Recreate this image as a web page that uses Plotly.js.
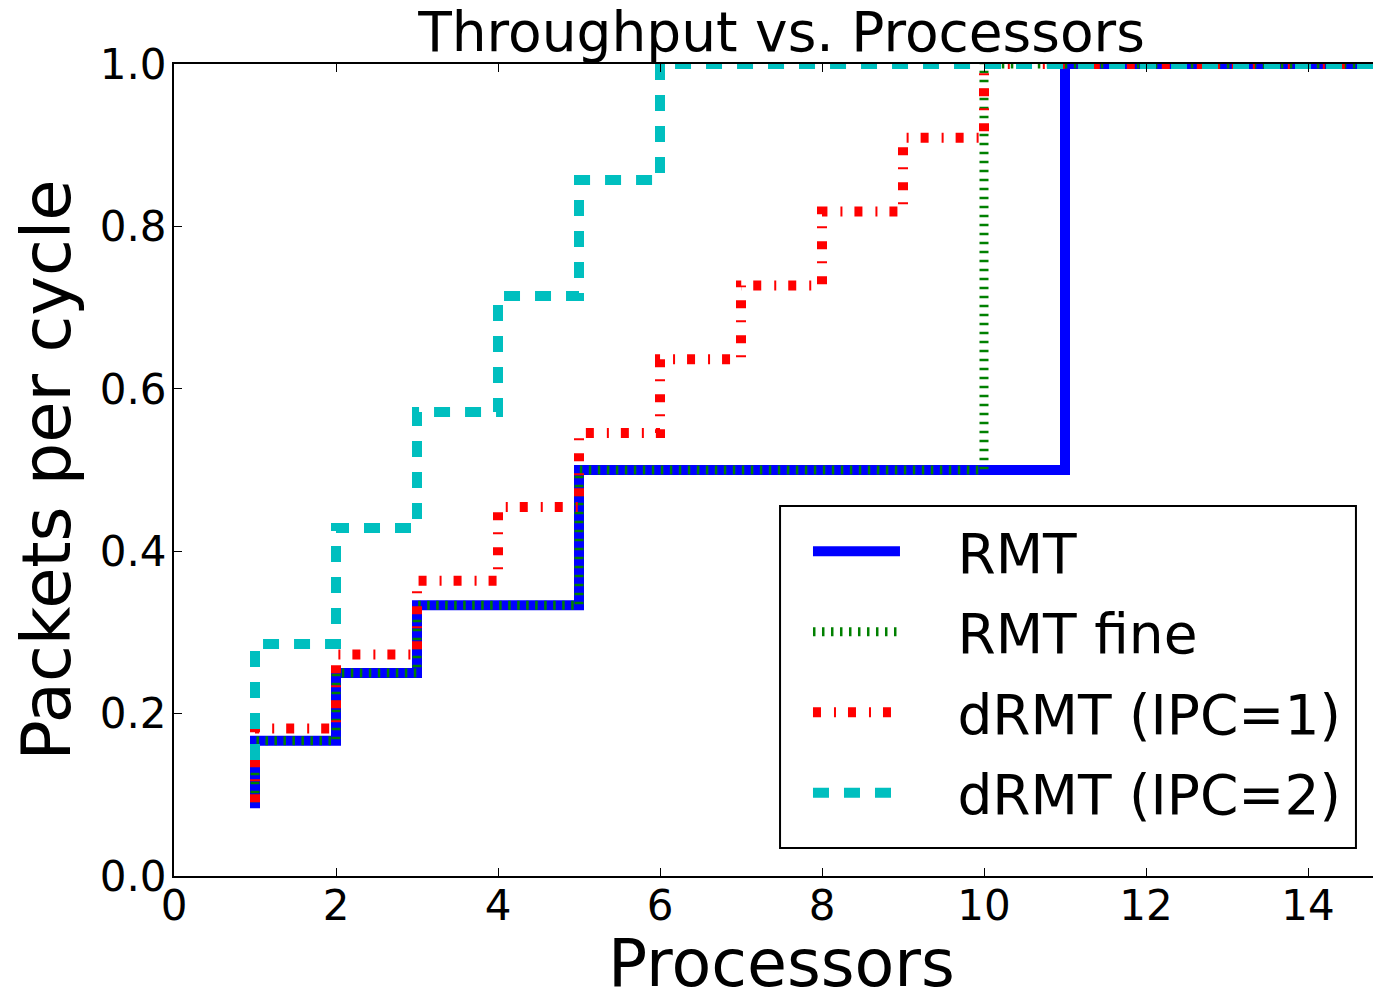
<!DOCTYPE html>
<html>
<head>
<meta charset="utf-8">
<script src="https://cdn.plot.ly/plotly-3.0.1.min.js"></script>
<style>
  html, body { margin: 0; padding: 0; background: #ffffff; overflow: hidden; }
  #chart { width: 1389px; height: 1001px; }
</style>
</head>
<body>
<div id="chart"></div>
<script>
// Number of processors
const processors = [1, 2, 3, 4, 5, 6, 7, 8, 9, 10, 11, 12, 13, 14, 15, 16];

// Packets per cycle (step plot, value holds to the left of each x)
const rmt = [0.0833, 0.1667, 0.25, 0.3333, 0.3333, 0.5, 0.5, 0.5, 0.5, 0.5, 0.5, 1.0, 1.0, 1.0, 1.0, 1.0];
const rmtFine = [0.0909, 0.1667, 0.25, 0.3333, 0.3333, 0.5, 0.5, 0.5, 0.5, 0.5, 1.0, 1.0, 1.0, 1.0, 1.0, 1.0];
const drmtIpc1 = [0.0909, 0.1818, 0.2727, 0.3636, 0.4545, 0.5455, 0.6364, 0.7273, 0.8182, 0.9091, 1.0, 1.0, 1.0, 1.0, 1.0, 1.0];
const drmtIpc2 = [0.1429, 0.2857, 0.4286, 0.5714, 0.7143, 0.8571, 1.0, 1.0, 1.0, 1.0, 1.0, 1.0, 1.0, 1.0, 1.0, 1.0];

const seriesNames = ["RMT", "RMT fine", "dRMT (IPC=1)", "dRMT (IPC=2)"];
const xTicks = [0, 2, 4, 6, 8, 10, 12, 14];
const yTicks = [0.0, 0.2, 0.4, 0.6, 0.8, 1.0];
const yTickText = ["0.0", "0.2", "0.4", "0.6", "0.8", "1.0"];

const FONT = "DejaVu Sans, Liberation Sans, sans-serif";
const PAD = "\u00a0\u00a0\u00a0"; // gap between legend sample and label

function stepTrace(name, y, color, width, dash, group) {
  return {
    type: "scatter",
    mode: "lines",
    name: PAD + name,
    x: processors,
    y: y,
    legendgroup: group,
    line: { shape: "vh", color: color, width: width, dash: dash },
    hoverinfo: "skip"
  };
}

const traces = [
  stepTrace(seriesNames[0], rmt, "#0000ff", 10, "solid", "g1"),
  stepTrace(seriesNames[1], rmtFine, "#008000", 9, "2.5px,6.5px", "g2"),
  stepTrace(seriesNames[2], drmtIpc1, "#ff0000", 10, "8px,13px,2px,12px", "g3"),
  stepTrace(seriesNames[3], drmtIpc2, "#00bfbf", 10, "16px,15px", "g4")
];

const layout = {
  width: 1389,
  height: 1001,
  margin: { l: 174, r: 0, t: 64, b: 125, pad: 0 },
  paper_bgcolor: "#ffffff",
  plot_bgcolor: "#ffffff",
  font: { family: FONT, color: "#000000", size: 42 },
  title: {
    text: "Throughput vs. Processors",
    font: { family: FONT, size: 55, color: "#000000" },
    x: 0.5,
    xanchor: "center",
    xref: "paper",
    y: 0.968,
    yanchor: "middle",
    yref: "container"
  },
  xaxis: {
    range: [0, 15],
    tickmode: "array",
    tickvals: xTicks,
    ticktext: xTicks.map(String),
    ticks: "inside",
    ticklen: 8,
    tickwidth: 1,
    tickcolor: "#000000",
    ticklabelstandoff: -8,
    showline: true,
    linecolor: "#000000",
    linewidth: 2,
    mirror: "ticks",
    showgrid: false,
    zeroline: false,
    tickfont: { family: FONT, size: 42, color: "#000000" },
    title: {
      text: "Processors",
      font: { family: FONT, size: 65, color: "#000000" },
      standoff: 27
    }
  },
  yaxis: {
    range: [0, 1],
    tickmode: "array",
    tickvals: yTicks,
    ticktext: yTickText,
    ticks: "inside",
    ticklen: 8,
    tickwidth: 1,
    tickcolor: "#000000",
    ticklabelstandoff: -3,
    showline: true,
    linecolor: "#000000",
    linewidth: 2,
    showgrid: false,
    zeroline: false,
    tickfont: { family: FONT, size: 42, color: "#000000" },
    title: {
      text: "Packets per cycle",
      font: { family: FONT, size: 67, color: "#000000" },
      standoff: 7
    }
  },
  shapes: [
    {
      type: "rect",
      xref: "paper", yref: "paper",
      x0: 0.4988, x1: 0.9728, y0: 0.0345, y1: 0.4557,
      line: { color: "#000000", width: 2 },
      fillcolor: "#ffffff",
      layer: "above"
    }
  ],
  legend: {
    x: 0.5218,
    y: 0.452,
    xanchor: "left",
    yanchor: "top",
    xref: "paper",
    yref: "paper",
    bgcolor: "rgba(0,0,0,0)",
    borderwidth: 0,
    font: { family: FONT, size: 55, color: "#000000" },
    traceorder: "grouped",
    tracegroupgap: 6,
    itemwidth: 87
  },
  showlegend: true
};

Plotly.newPlot("chart", traces, layout, { displayModeBar: false, staticPlot: true });
</script>
</body>
</html>
